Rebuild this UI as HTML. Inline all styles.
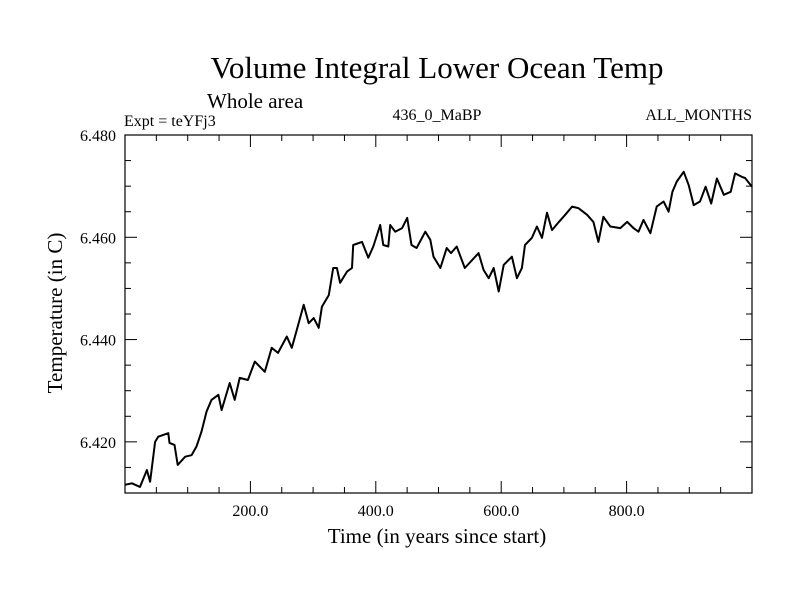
<!DOCTYPE html>
<html><head><meta charset="utf-8"><style>
body{margin:0;background:#fff}
svg{display:block;font-family:"Liberation Serif",serif}
</style></head><body>
<svg id="chart" width="800" height="600">
<rect width="800" height="600" fill="#fff"/>
<text x="437" y="78" font-size="31" text-anchor="middle">Volume Integral Lower Ocean Temp</text>
<text x="207" y="108" font-size="21">Whole area</text>
<text x="124" y="126" font-size="16">Expt = teYFj3</text>
<text x="437" y="120" font-size="16" text-anchor="middle">436_0_MaBP</text>
<text x="752" y="120" font-size="16" text-anchor="end">ALL_MONTHS</text>
<text x="437" y="543" font-size="21" text-anchor="middle">Time (in years since start)</text>
<text transform="translate(62,313) rotate(-90)" font-size="21" text-anchor="middle">Temperature (in C)</text>
<g id="axes"></g>
<path id="series" fill="none" stroke="#000" stroke-width="2" stroke-linejoin="round"/>
<rect x="125" y="135" width="627" height="358" fill="none" stroke="#000" stroke-width="1.2"/>
</svg>
<script>
const years=[0,11,24,35,40,48,53,69,71,79,84,96,106,114,122,130,138,149,154,167,175,183,196,207,223,234,244,258,266,274,285,293,301,309,314,325,332,338,343,354,362,364,378,388,396,407,412,420,423,431,442,450,457,465,479,487,492,503,513,520,529,542,564,572,580,588,596,604,617,625,633,638,649,657,665,673,681,692,702,713,723,737,747,755,763,774,790,801,811,819,827,838,848,859,867,873,880,891,899,907,917,926,935,944,955,966,973,984,989,1000];
const temps=[6.4116,6.4119,6.4112,6.4145,6.4122,6.4200,6.4210,6.4217,6.4198,6.4194,6.4155,6.4171,6.4174,6.4191,6.4220,6.4259,6.4282,6.4292,6.4262,6.4315,6.4282,6.4325,6.4321,6.4357,6.4337,6.4384,6.4374,6.4406,6.4384,6.4419,6.4468,6.4432,6.4442,6.4423,6.4464,6.4487,6.4540,6.4540,6.4511,6.4533,6.4540,6.4585,6.4591,6.4560,6.4582,6.4624,6.4585,6.4582,6.4624,6.4611,6.4618,6.4638,6.4585,6.4579,6.4611,6.4595,6.4562,6.4540,6.4579,6.4569,6.4582,6.4540,6.4569,6.4536,6.4520,6.4540,6.4494,6.4546,6.4562,6.4520,6.4540,6.4585,6.4599,6.4621,6.4599,6.4648,6.4614,6.4630,6.4644,6.4660,6.4657,6.4644,6.4630,6.4591,6.4640,6.4621,6.4618,6.4630,6.4618,6.4611,6.4634,6.4608,6.4660,6.4670,6.4650,6.4689,6.4709,6.4728,6.4702,6.4663,6.4670,6.4699,6.4666,6.4715,6.4683,6.4689,6.4725,6.4718,6.4716,6.4699];
const xTicks=[200,400,600,800];
const xTickLabels=["200.0","400.0","600.0","800.0"];
const yTicks=[6.420,6.440,6.460,6.480];
const yTickLabels=["6.420","6.440","6.460","6.480"];
const X0=125,X1=752,Y0=493,Y1=135,XMIN=0,XMAX=1000,YMIN=6.410,YMAX=6.480;
const sx=v=>X0+(v-XMIN)/(XMAX-XMIN)*(X1-X0);
const sy=v=>Y0-(v-YMIN)/(YMAX-YMIN)*(Y0-Y1);
const NS="http://www.w3.org/2000/svg";
const axes=document.getElementById('axes');
function line(x1,y1,x2,y2,name){const l=document.createElementNS(NS,'line');l.setAttribute('x1',x1);l.setAttribute('y1',y1);l.setAttribute('x2',x2);l.setAttribute('y2',y2);l.setAttribute('stroke','#000');l.setAttribute('stroke-width','1');


axes.appendChild(l);}
function text(x,y,s,anchor,name){const t=document.createElementNS(NS,'text');t.setAttribute('x',x);t.setAttribute('y',y);t.setAttribute('font-size','16');t.setAttribute('text-anchor',anchor);t.textContent=s;


axes.appendChild(t);}
for(let v=50;v<XMAX;v+=50){const x=sx(v);const major=v%200===0;const L=major?12:6;line(x,Y0,x,Y0-L,'x-tick');line(x,Y1,x,Y1+L,'x-tick-top');}
for(let i=1;i<14;i++){const v=YMIN+i*0.005;const y=sy(v);const major=i%4===2;const L=major?12:6;line(X0,y,X0+L,y,'y-tick');line(X1,y,X1-L,y,'y-tick-right');}
xTicks.forEach((v,i)=>text(sx(v),516,xTickLabels[i],'middle','x-tick-label'));
yTicks.forEach((v,i)=>text(116,sy(v)+6,yTickLabels[i],'end','y-tick-label'));
document.getElementById('series').setAttribute('d',years.map((y,i)=>(i?'L':'M')+sx(y).toFixed(1)+','+sy(temps[i]).toFixed(1)).join(''));
</script>
</body></html>
